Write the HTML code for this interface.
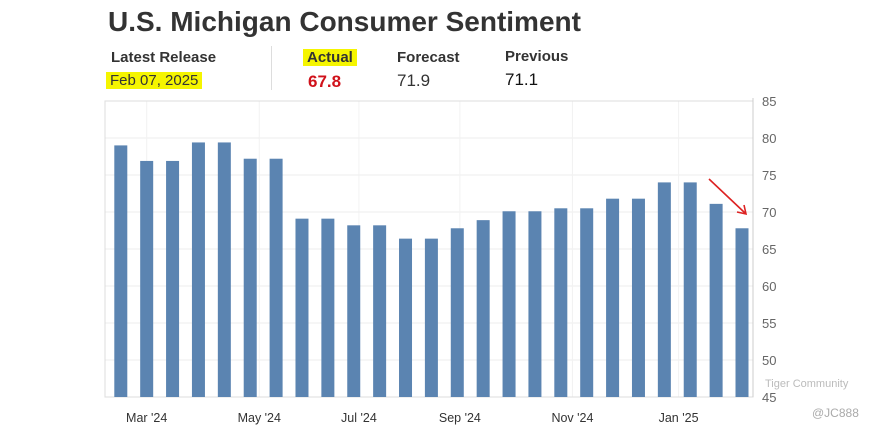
<!DOCTYPE html>
<html><head><meta charset="utf-8"><style>
body{margin:0;width:871px;height:431px;background:#fff;font-family:"Liberation Sans",Arial,sans-serif;position:relative;overflow:hidden}
.t{position:absolute;white-space:nowrap}
</style></head><body>
<div class="t" style="left:108px;top:6px;font-size:28px;font-weight:bold;color:#333">U.S. Michigan Consumer Sentiment</div>
<div class="t" style="left:111px;top:49px;font-size:15px;font-weight:bold;color:#333">Latest Release</div>
<div class="t" style="left:106px;top:72px;font-size:15px;color:#333;background:#f5f500;padding:0 4px">Feb 07, 2025</div>
<div style="position:absolute;left:271px;top:46px;width:1px;height:44px;background:#ddd"></div>
<div class="t" style="left:303px;top:49px;font-size:15px;font-weight:bold;color:#333;background:#f5f500;padding:0 4px">Actual</div>
<div class="t" style="left:308px;top:72px;font-size:17px;font-weight:bold;color:#d0121b">67.8</div>
<div class="t" style="left:397px;top:49px;font-size:15px;font-weight:bold;color:#333">Forecast</div>
<div class="t" style="left:397px;top:71px;font-size:17px;color:#333">71.9</div>
<div class="t" style="left:505px;top:48px;font-size:15px;font-weight:bold;color:#333">Previous</div>
<div class="t" style="left:505px;top:70px;font-size:17px;color:#111">71.1</div>
<svg id="c" width="871" height="431" style="position:absolute;left:0;top:0"></svg>
<script>
const values=[79.0,76.9,76.9,79.4,79.4,77.2,77.2,69.1,69.1,68.2,68.2,66.4,66.4,67.8,68.9,70.1,70.1,70.5,70.5,71.8,71.8,74.0,74.0,71.1,67.8];
const yTicks=[45,50,55,60,65,70,75,80,85];
const xLabels=["Mar '24","May '24","Jul '24","Sep '24","Nov '24","Jan '25"];
const xLabelIdx=[1,5.35,9.2,13.1,17.45,21.55];
const L=105,R=753,T=101,B=397,ns="http://www.w3.org/2000/svg",svg=document.getElementById('c');
const y=v=>B-(v-45)/(85-45)*(B-T);
const x=i=>120.8+i*(742-120.8)/(values.length-1);
function mk(t,a){const e=document.createElementNS(ns,t);for(const k in a)e.setAttribute(k,a[k]);svg.appendChild(e);return e;}
yTicks.forEach(v=>{const g=mk('line',{x1:L,x2:R,y1:y(v),y2:y(v),stroke:'#ececec'});


const t=mk('text',{x:762,y:y(v)+5,'font-size':13,fill:'#666'});t.textContent=v;

});
xLabels.forEach((s,k)=>{const xx=x(xLabelIdx[k]);
const g=mk('line',{x1:xx,x2:xx,y1:T,y2:B,stroke:'#f2f2f2'});


const t=mk('text',{x:xx,y:422,'font-size':12.5,fill:'#333','text-anchor':'middle'});t.textContent=s;

});
const fr=mk('rect',{x:L,y:T,width:R-L,height:B-T,fill:'none',stroke:'#ddd'});


values.forEach((v,i)=>{const b=mk('rect',{x:x(i)-6.5,y:y(v),width:13,height:B-y(v),fill:'#5b84b1'});

});
const ax=mk('line',{x1:R,x2:R,y1:T-3,y2:B,stroke:'#ccc'});


const ar=mk('path',{d:'M709 179 L745 213 M737 212 L746 214 L744 205',stroke:'#d22',fill:'none','stroke-width':1.6});


const w1=mk('text',{x:765,y:387,'font-size':11,fill:'#bbb'});w1.textContent='Tiger Community';


const w2=mk('text',{x:812,y:417,'font-size':12,fill:'#aaa'});w2.textContent='@JC888';


</script>
</body></html>
